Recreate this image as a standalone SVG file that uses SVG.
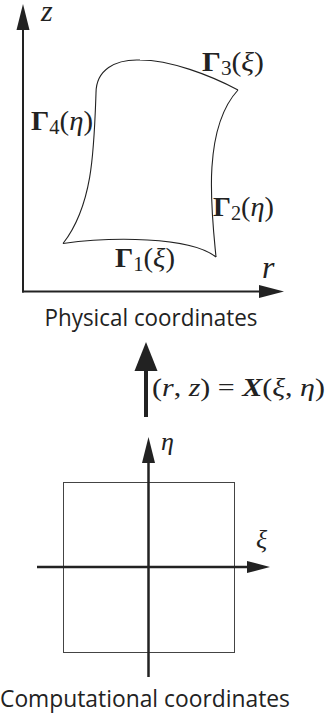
<svg xmlns="http://www.w3.org/2000/svg" width="327" height="717" viewBox="0 0 327 717">
<style>
.ax{stroke:#222;stroke-width:2;fill:none}
.ax2{stroke:#222;stroke-width:2.5;fill:none}
.head{fill:#222}
.curve{stroke:#222;stroke-width:1.1;fill:none}
.m{font-family:"Liberation Serif","DejaVu Serif",serif;fill:#222}
.mi{font-style:italic}
.b{font-weight:bold}
.lbl{font-family:"Open Sans","Noto Sans",sans-serif;font-size:23px;fill:#222}
</style>
<rect width="327" height="717" fill="#fff"/>
<g id="physical-axes">
<line class="ax" x1="23" y1="292.5" x2="23" y2="26"/>
<polygon class="head" points="23,4 16.5,30 29.5,30"/>
<line class="ax" x1="22" y1="291.5" x2="264" y2="291.5"/>
<polygon class="head" points="284,291.5 259,285 259,298"/>
<text class="m mi" x="41" y="21" font-size="30">z</text>
<text class="m mi" x="262" y="278" font-size="32">r</text>
</g>
<g id="physical-domain">
<path class="curve" d="M63,243.5 C110,237 190,236 216,257"/>
<path class="curve" d="M216,257 C212,215 201,130 238,90"/>
<path class="curve" d="M96,93 C96,70 115,59 140,60 C170,60 210,75 238,90"/>
<path class="curve" d="M96,93 C94,150 93,205 63,243.5"/>
<text class="m" x="202" y="71" font-size="28" textLength="62" lengthAdjust="spacingAndGlyphs"><tspan class="b">Γ</tspan><tspan font-size="20" dy="4">3</tspan><tspan dy="-4">(</tspan><tspan class="mi">ξ</tspan>)</text>
<text class="m" x="31" y="130" font-size="28" textLength="62" lengthAdjust="spacingAndGlyphs"><tspan class="b">Γ</tspan><tspan font-size="20" dy="4">4</tspan><tspan dy="-4">(</tspan><tspan class="mi">η</tspan>)</text>
<text class="m" x="213" y="216" font-size="28" textLength="61" lengthAdjust="spacingAndGlyphs"><tspan class="b">Γ</tspan><tspan font-size="20" dy="4">2</tspan><tspan dy="-4">(</tspan><tspan class="mi">η</tspan>)</text>
<text class="m" x="115" y="267" font-size="28" textLength="60" lengthAdjust="spacingAndGlyphs"><tspan class="b">Γ</tspan><tspan font-size="20" dy="4">1</tspan><tspan dy="-4">(</tspan><tspan class="mi">ξ</tspan>)</text>
</g>
<g id="physical-label">
<text class="lbl" x="151" y="326" text-anchor="middle" textLength="213" lengthAdjust="spacingAndGlyphs">Physical coordinates</text>
</g>
<g id="connectors">
<line stroke="#222" stroke-width="4" x1="146" y1="417" x2="146" y2="366"/>
<polygon class="head" points="146,342 134.5,371 157.5,371"/>
<text class="m" x="152" y="396" font-size="26" textLength="173" lengthAdjust="spacingAndGlyphs">(<tspan class="mi">r</tspan>, <tspan class="mi">z</tspan>) = <tspan class="mi b">X</tspan>(<tspan class="mi">ξ</tspan>, <tspan class="mi">η</tspan>)</text>
</g>
<g id="computational-domain">
<rect x="63.5" y="482.5" width="171" height="170" fill="none" stroke="#444" stroke-width="1"/>
<line class="ax2" x1="148.5" y1="677" x2="148.5" y2="458"/>
<polygon class="head" points="148.5,437 142,463 155,463"/>
<line class="ax2" x1="37" y1="567" x2="252" y2="567"/>
<polygon class="head" points="270,567 247,561 247,573"/>
<text class="m mi" x="161" y="450" font-size="26">η</text>
<text class="m mi" x="256" y="548" font-size="26">ξ</text>
</g>
<g id="computational-label">
<text class="lbl" x="145" y="707" text-anchor="middle" textLength="290" lengthAdjust="spacingAndGlyphs">Computational coordinates</text>
</g>
</svg>
